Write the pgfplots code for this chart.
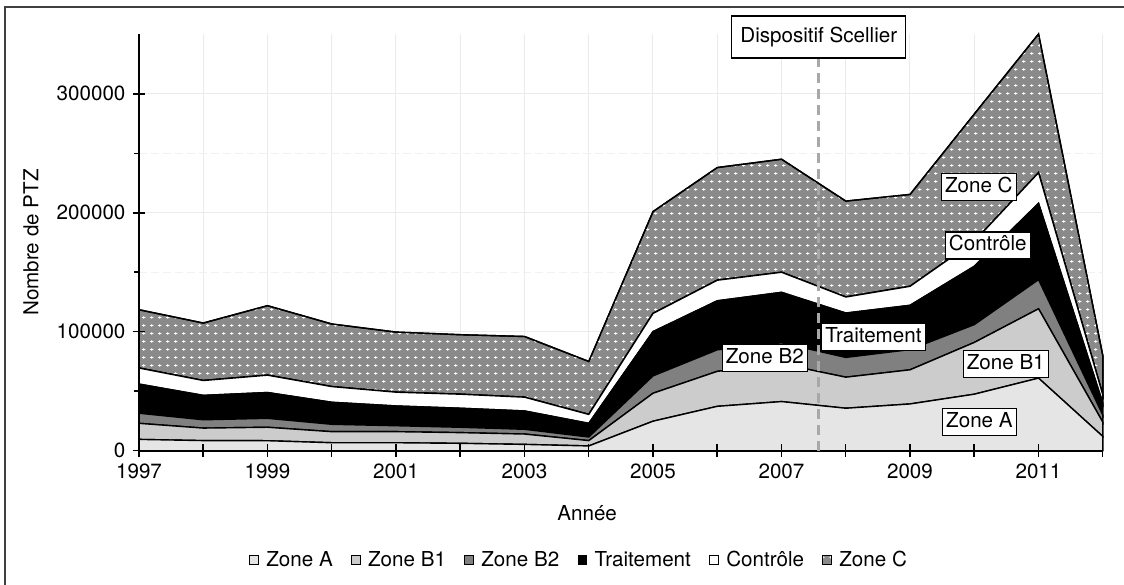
\documentclass[border=0pt]{standalone}
\usepackage{fontspec}
\setmainfont{TeX Gyre Heros}
\usepackage{pgfplots}
\usepackage{pgfplotstable}
\pgfplotsset{compat=1.18}
\usetikzlibrary{patterns}

\definecolor{zoneA}{HTML}{E5E5E5}
\definecolor{zoneB1}{HTML}{CCCCCC}
\definecolor{zoneB2}{HTML}{808080}
\definecolor{zoneC}{HTML}{8A8A8A}
\definecolor{gridmaj}{HTML}{EBEBEB}
\definecolor{gridmin}{HTML}{F1F1F1}
\definecolor{scellier}{HTML}{A8A8A8}

% petites croix blanches sur fond gris (zone C)
\pgfdeclarepatternformonly{plusgrid}{\pgfqpoint{0pt}{0pt}}{\pgfqpoint{3.9pt}{4pt}}{\pgfqpoint{3.9pt}{4pt}}{%
  \pgfsetlinewidth{0.45pt}%
  \pgfpathmoveto{\pgfqpoint{1.15pt}{2pt}}\pgfpathlineto{\pgfqpoint{2.75pt}{2pt}}%
  \pgfpathmoveto{\pgfqpoint{1.95pt}{1.2pt}}\pgfpathlineto{\pgfqpoint{1.95pt}{2.8pt}}%
  \pgfusepath{stroke}}

% nombre de PTZ par annee et par zone (empiles)
\pgfplotstableread{
annee zA zB1 zB2 trait ctrl zC
1997 9500 13500 8500 24500 13500 49000
1998 8500 10500 7000 20500 12500 48300
1999 8400 11300 7500 21700 14600 58400
2000 6700 9300 6200 18500 13200 52600
2001 6700 9300 5000 16600 11600 50500
2002 6200 9000 4500 16000 11800 50000
2003 5300 8700 4000 15400 11600 51000
2004 4000 4500 3000 11500 7500 44500
2005 24800 23500 14600 37200 15300 85600
2006 37300 29400 18100 41200 17300 94700
2007 41300 31700 17700 42400 16900 95000
2008 35700 26100 16600 37300 13500 80600
2009 39300 28700 17000 37200 16000 77200
2010 47500 43500 15000 49000 21000 107000
2011 61000 58300 24500 64100 25800 116600
2012 12000 12000 6000 10000 7000 33000
}\ptz

\newcommand{\fs}{\fontsize{10.3pt}{12pt}\selectfont}

\begin{document}
\begin{tikzpicture}[font=\fs]
\useasboundingbox (0,0) rectangle (562pt,292pt);
\draw[line width=0.6pt, black!75] (2.5pt,-2pt) -- (2.5pt,288.5pt) -- (566pt,288.5pt);

\pgfplotsset{
  base/.style={
    at={(69.5pt,66.65pt)}, anchor=south west, scale only axis,
    width=481.9pt, height=208.2pt,
    xmin=1997, xmax=2012, ymin=0, ymax=350000,
    enlargelimits=false, scaled y ticks=false, scaled x ticks=false,
    xtick={1997,...,2012}, ytick={0,100000,200000,300000},
    minor x tick num=1, minor y tick num=1,
  }
}

% fond : grille, aires empilees, legende
\begin{axis}[
  base, stack plots=y,
  axis line style={draw=none}, major tick length=0pt, minor tick length=0pt,
  xticklabels={}, yticklabels={},
  grid=both,
  major grid style={gridmaj, line width=0.5pt},
  minor grid style={gridmin, line width=0.5pt, dash pattern=on 4pt off 2pt},
  clip=false,
  legend columns=-1,
  legend style={draw=none, fill=none, font=\fs,
    at={(axis description cs:0.4575,-0.2625)}, anchor=center,
    /tikz/every even column/.append style={column sep=7pt}},
  legend image code/.code={%
    \draw[#1, draw=black, line width=0.4pt] (0pt,-2.15pt) rectangle (4.3pt,2.15pt);
    \path[draw=none, fill=none, postaction={}] (0pt,0pt) (6pt,0pt);},
  every axis plot/.append style={draw=black, line width=0.7pt},
]
\addplot[fill=zoneA] table[x=annee, y=zA] {\ptz} \closedcycle;
\addlegendentry{Zone A}
\addplot[fill=zoneB1] table[x=annee, y=zB1] {\ptz} \closedcycle;
\addlegendentry{Zone B1}
\addplot[fill=zoneB2] table[x=annee, y=zB2] {\ptz} \closedcycle;
\addlegendentry{Zone B2}
\addplot[fill=black] table[x=annee, y=trait] {\ptz} \closedcycle;
\addlegendentry{Traitement}
\addplot[fill=white] table[x=annee, y=ctrl] {\ptz} \closedcycle;
\addlegendentry{Contrôle}
\addplot[fill=zoneC, postaction={pattern=plusgrid, pattern color=white}] table[x=annee, y=zC] {\ptz} \closedcycle;
\addlegendentry{Zone C}
\end{axis}

% premier plan : axes, graduations, libelles, annotations
\begin{axis}[
  base,
  clip=false,
  axis lines*=left,
  axis line style={line width=1pt, black},
  tick align=center,
  major tick length=6.5pt, minor tick length=2.5pt,
  tick style={black, line width=0.75pt},
  minor x tick style={yshift=-1.25pt},
  minor y tick style={xshift=-1.25pt},
  xticklabels={1997,,1999,,2001,,2003,,2005,,2007,,2009,,2011,},
  yticklabels={0,100000,200000,300000},
  tick label style={font=\fs},
  /pgf/number format/assume math mode=true,
  xlabel={Année}, ylabel={Nombre de PTZ},
  label style={font=\fs},
  xlabel style={at={(axis description cs:0.465,-0.1496)}, anchor=center},
  ylabel style={at={(axis description cs:-0.112,0.5)}, anchor=center},
]
\draw[scellier, line width=1.5pt, dash pattern=on 5pt off 3pt] (axis cs:2007.58,0) -- (axis cs:2007.58,330000);
\node[draw, fill=white, line width=0.6pt, inner xsep=4.3pt, text height=7.6pt, text depth=2.2pt, inner ysep=5.6pt]
  at (axis cs:2007.58,347700) {Dispositif Scellier};
\node[draw, fill=white, line width=0.6pt, inner xsep=1.8pt, inner ysep=2pt, text height=7.5pt, text depth=2pt]
  at (axis cs:2010.07,221700) {Zone C};
\node[draw, fill=white, line width=0.6pt, inner xsep=1.8pt, inner ysep=2pt, text height=7.5pt, text depth=2pt]
  at (axis cs:2010.21,172500) {Contrôle};
\node[draw, fill=white, line width=0.6pt, inner xsep=1.8pt, inner ysep=2pt, text height=7.5pt, text depth=2pt]
  at (axis cs:2008.43,95400) {Traitement};
\node[draw, fill=white, line width=0.6pt, inner xsep=1.8pt, inner ysep=2pt, text height=7.5pt, text depth=2pt]
  at (axis cs:2006.74,77700) {Zone B2};
\node[draw, fill=white, line width=0.6pt, inner xsep=1.8pt, inner ysep=2pt, text height=7.5pt, text depth=2pt]
  at (axis cs:2010.49,73000) {Zone B1};
\node[draw, fill=white, line width=0.6pt, inner xsep=1.8pt, inner ysep=2pt, text height=7.5pt, text depth=2pt]
  at (axis cs:2010.08,24200) {Zone A};
\end{axis}
\end{tikzpicture}
\end{document}
